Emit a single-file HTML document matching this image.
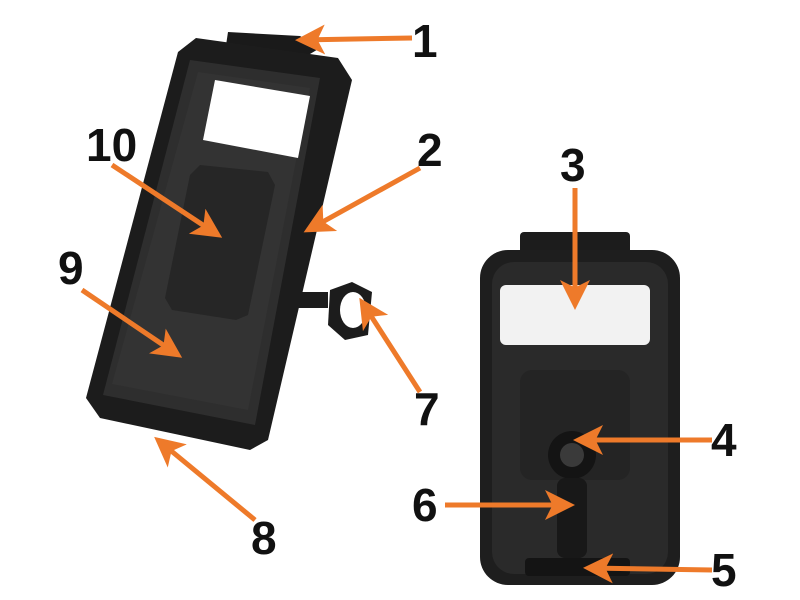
<!DOCTYPE html>
<html><head><style>
html,body{margin:0;padding:0;background:#fff;}
svg{display:block}
text{font-family:"Liberation Sans",sans-serif;font-weight:bold;font-size:46px;fill:#111}
</style></head><body>
<svg width="800" height="600" viewBox="0 0 800 600">
<defs>
<marker id="ah" markerWidth="6" markerHeight="6" refX="5" refY="3" orient="auto" markerUnits="strokeWidth">
<path d="M0,0 L6,3 L0,6 L1.5,3 z" fill="#ee7a2a"/>
</marker>
</defs>
<polygon points="228,32 300,36 320,48 300,60 225,52" fill="#1a1a1a"/>
<polygon points="196,38 338,58 352,80 268,440 250,450 100,418 86,398 178,52" fill="#1c1c1c"/>
<polygon points="190,60 320,78 255,425 103,395" fill="#2e2e2e"/>
<polygon points="198,72 310,88 248,410 112,384" fill="#333"/>
<polygon points="215,80 310,96 298,158 203,140" fill="#fff"/>
<polygon points="200,165 268,172 275,185 248,315 236,320 172,310 165,298 190,175" fill="#262626"/>
<polygon points="330,290 352,282 372,292 368,335 345,340 328,325" fill="#1c1c1c"/>
<ellipse cx="353" cy="310" rx="13" ry="18" fill="#fff"/>
<rect x="298" y="292" width="30" height="16" fill="#1c1c1c"/>
<rect x="520" y="232" width="110" height="35" rx="4" fill="#1c1c1c"/>
<rect x="480" y="250" width="200" height="335" rx="28" fill="#1e1e1e"/>
<rect x="492" y="262" width="176" height="312" rx="22" fill="#2a2a2a"/>
<rect x="500" y="285" width="150" height="60" rx="6" fill="#f2f2f2"/>
<rect x="520" y="370" width="110" height="110" rx="12" fill="#242424"/>
<circle cx="572" cy="455" r="24" fill="#141414"/>
<circle cx="572" cy="455" r="12" fill="#3a3a3a"/>
<rect x="557" y="478" width="30" height="80" rx="8" fill="#181818"/>
<rect x="525" y="558" width="105" height="18" rx="4" fill="#141414"/>
<g stroke="#ee7a2a" stroke-width="5" fill="none" marker-end="url(#ah)">
<line x1="412" y1="38" x2="300" y2="40"/>
<line x1="420" y1="168" x2="308" y2="230"/>
<line x1="575" y1="188" x2="575" y2="305"/>
<line x1="712" y1="440" x2="578" y2="440"/>
<line x1="712" y1="570" x2="588" y2="568"/>
<line x1="445" y1="505" x2="570" y2="505"/>
<line x1="420" y1="392" x2="362" y2="302"/>
<line x1="255" y1="520" x2="158" y2="440"/>
<line x1="112" y1="165" x2="218" y2="235"/>
<line x1="82" y1="290" x2="178" y2="355"/>
</g>
<text x="412" y="57">1</text>
<text x="417" y="166">2</text>
<text x="560" y="181">3</text>
<text x="711" y="456">4</text>
<text x="711" y="586">5</text>
<text x="412" y="521">6</text>
<text x="414" y="425">7</text>
<text x="251" y="554">8</text>
<text x="58" y="284">9</text>
<text x="86" y="161">10</text>
</svg>
</body></html>
